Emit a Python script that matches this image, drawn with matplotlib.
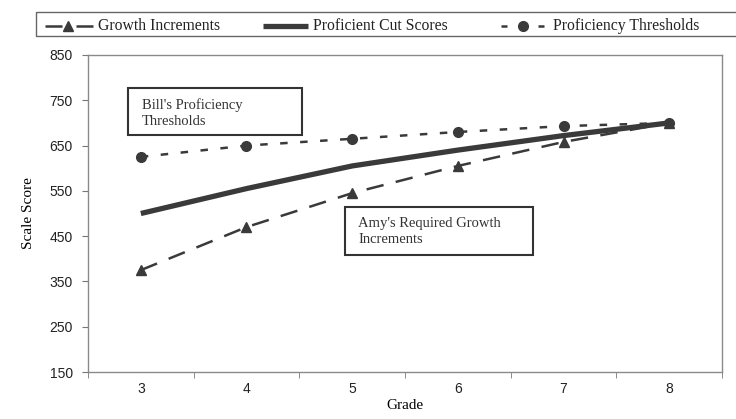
import numpy as np
import matplotlib
matplotlib.use("Agg")
import matplotlib.pyplot as plt
from matplotlib.lines import Line2D
from matplotlib.patches import Rectangle

# values
grades = ["3", "4", "5", "6", "7", "8"]
growth_increments = [375, 470, 545, 605, 658, 700]
cut_scores = [500, 555, 605, 640, 672, 700]
thresholds = [625, 650, 665, 680, 693, 700]
y_ticks = [150, 250, 350, 450, 550, 650, 750, 850]

ink = "#3a3a3a"
serif = ["Liberation Serif", "DejaVu Serif"]
sans = ["Liberation Sans", "DejaVu Sans"]

W, H = 736, 419
fig = plt.figure(figsize=(W / 100, H / 100), dpi=100)
ax = fig.add_axes([88 / W, 1 - 372 / H, 634 / W, 317 / H])

growth_style = dict(color=ink, lw=1.8, dashes=(7, 5), marker="^", ms=7)
cut_style = dict(color=ink, lw=3.8, solid_capstyle="butt")
thr_style = dict(color=ink, lw=1.8, dashes=(3, 5), marker="o", ms=7)

x = np.arange(len(grades))
ax.plot(x, growth_increments, **growth_style)
ax.plot(x, cut_scores, **cut_style)
ax.plot(x, thresholds, **thr_style)

ax.set_xlim(-0.5, len(grades) - 0.5)
ax.set_ylim(150, 850)
ax.set_yticks(y_ticks)
ax.set_yticklabels([str(v) for v in y_ticks], fontfamily=sans, fontsize=10, color="#222222")
ax.set_xticks(x)
ax.set_xticklabels(grades, fontfamily=sans, fontsize=10, color="#222222")
ax.set_xticks(np.arange(len(grades) + 1) - 0.5, minor=True)
ax.tick_params(axis="x", which="major", length=0, pad=7)
ax.tick_params(axis="x", which="minor", length=4, direction="out", color="#777777")
ax.tick_params(axis="y", length=4, direction="out", color="#777777", pad=7)
for s in ax.spines.values():
    s.set_color("#8a8a8a")
    s.set_linewidth(1.0)

ax.set_xlabel("Grade", fontfamily=serif, fontsize=11, labelpad=2)
ax.set_ylabel("Scale Score", fontfamily=serif, fontsize=11, labelpad=10)

# annotation boxes
ax.add_patch(Rectangle((-0.121, 673), 1.646, 104, fill=False, ec="#333333", lw=1.5, zorder=5))
ax.text(0.011, 722, "Bill's Proficiency\nThresholds", fontfamily=serif, fontsize=10.5,
        va="center", ha="left", linespacing=1.3, color="#333333", zorder=6)
ax.add_patch(Rectangle((1.932, 408), 1.779, 106, fc="white", ec="#333333", lw=1.5, zorder=5))
ax.text(2.055, 460, "Amy's Required Growth\nIncrements", fontfamily=serif, fontsize=10.5,
        va="center", ha="left", linespacing=1.3, color="#333333", zorder=6)

# legend strip along the top, drawn in pixel positions
def px(xp, yp):
    return xp / W, 1 - yp / H

fig.add_artist(Rectangle(px(36, 36), (760 - 36) / W, 24 / H, fill=False,
                         ec="#666666", lw=1.0, transform=fig.transFigure))
ly = px(0, 26)[1]
fig.add_artist(Line2D([45 / W, 93 / W], [ly, ly], color=ink, lw=1.8, dashes=(6.8, 5.6),
                      transform=fig.transFigure))
fig.add_artist(Line2D([68 / W], [ly], color=ink, marker="^", ms=7, transform=fig.transFigure))
fig.add_artist(Line2D([263 / W, 308 / W], [ly, ly], transform=fig.transFigure, **cut_style))
fig.add_artist(Line2D([501 / W, 544 / W], [ly, ly], color=ink, lw=1.8, dashes=(2.4, 12.4),
                      transform=fig.transFigure))
fig.add_artist(Line2D([522.5 / W], [ly], color=ink, marker="o", ms=7, transform=fig.transFigure))
for xp, label in [(98, "Growth Increments"), (313, "Proficient Cut Scores"),
                  (553, "Proficiency Thresholds")]:
    fig.text(xp / W, ly, label, fontfamily=serif, fontsize=11.3, va="center", ha="left",
             color="#222222")

fig.savefig("out.png", dpi=100)
